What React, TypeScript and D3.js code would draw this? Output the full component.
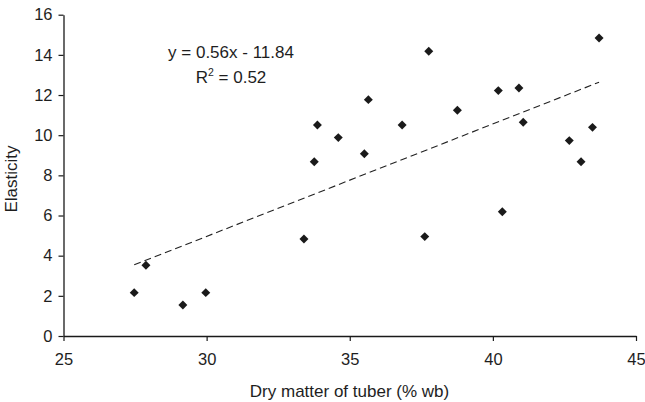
import React, { useEffect, useRef } from "react";
import * as d3 from "d3";

const dryMatter = [27.47, 27.88, 29.17, 29.97, 33.40, 33.76, 33.87, 34.60, 35.51, 35.65, 36.83, 37.62, 37.76, 38.76, 40.19, 40.33, 40.91, 41.06, 42.67, 43.08, 43.48, 43.71];
const elasticity = [2.16, 3.52, 1.54, 2.16, 4.83, 8.68, 10.51, 9.88, 9.08, 11.77, 10.51, 4.95, 14.18, 11.24, 12.22, 6.19, 12.35, 10.64, 9.73, 8.68, 10.39, 14.84];
const xTicks = [25, 30, 35, 40, 45];
const yTicks = [0, 2, 4, 6, 8, 10, 12, 14, 16];
const trendCoef = [0.56, -11.84];
const equationLabel = "y = 0.56x - 11.84";
const r2Label = "0.52";
const xTitle = "Dry matter of tuber (% wb)";
const yTitle = "Elasticity";

const W = 645;
const H = 402;
const FONT = "'Liberation Sans', Arial, sans-serif";

export default function App() {
  const ref = useRef<SVGSVGElement>(null);

  useEffect(() => {
    const svg = d3.select(ref.current);
    svg.selectAll("*").remove();

    const x = d3.scaleLinear().domain([25, 45]).range([63.5, 636]);
    const y = d3.scaleLinear().domain([0, 16]).range([336, 14.7]);

    const color = "#1a1a1a";
    const textColor = "#1e1e1e";

    // x axis
    const gx = svg.append("g").attr("transform", `translate(0,${y(0)})`);
    gx.call(d3.axisBottom(x).tickValues(xTicks).tickSize(5).tickSizeOuter(0).tickPadding(12).tickFormat(d3.format("d")));
    gx.select(".domain").attr("stroke", color).attr("stroke-width", 1.3);
    gx.selectAll(".tick line").attr("stroke", color).attr("stroke-width", 1.2);
    gx.selectAll(".tick text")
      .attr("font-family", FONT)
      .attr("font-size", 16.5)
      .attr("fill", textColor);

    // y axis
    const gy = svg.append("g").attr("transform", `translate(${x(25)},0)`);
    gy.call(d3.axisLeft(y).tickValues(yTicks).tickSize(5).tickSizeOuter(0).tickPadding(6).tickFormat(d3.format("d")));
    gy.select(".domain").attr("stroke", color).attr("stroke-width", 1.3);
    gy.selectAll(".tick line").attr("stroke", color).attr("stroke-width", 1.2);
    gy.selectAll(".tick text")
      .attr("font-family", FONT)
      .attr("font-size", 16.5)
      .attr("fill", textColor);

    // trend line
    const xmin = d3.min(dryMatter) as number;
    const xmax = d3.max(dryMatter) as number;
    const trend = [xmin, xmax].map((v) => [v, trendCoef[0] * v + trendCoef[1]]);
    svg
      .append("path")
      .attr("d", d3.line<number[]>().x((d) => x(d[0])).y((d) => y(d[1]))(trend) as string)
      .attr("fill", "none")
      .attr("stroke", "#222")
      .attr("stroke-width", 1.1)
      .attr("stroke-dasharray", "7,4");

    // points
    const sym = d3.symbol().type(d3.symbolSquare).size(40);
    svg
      .append("g")
      .selectAll("path")
      .data(dryMatter.map((v, i) => [v, elasticity[i]]))
      .join("path")
      .attr("d", sym() as string)
      .attr("transform", (d) => `translate(${x(d[0])},${y(d[1])}) rotate(45)`)
      .attr("fill", color);

    // equation
    svg
      .append("text")
      .attr("x", 231)
      .attr("y", 58)
      .attr("text-anchor", "middle")
      .attr("font-family", FONT)
      .attr("font-size", 17)
      .attr("fill", textColor)
      .text(equationLabel);
    const r2 = svg
      .append("text")
      .attr("x", 231)
      .attr("y", 82.5)
      .attr("text-anchor", "middle")
      .attr("font-family", FONT)
      .attr("font-size", 17)
      .attr("fill", textColor);
    r2.append("tspan").text("R");
    r2.append("tspan").attr("font-size", 10.5).attr("dy", -7).text("2");
    r2.append("tspan").attr("dy", 7).text(" = " + r2Label);

    // axis titles
    svg
      .append("text")
      .attr("x", 349.5)
      .attr("y", 397)
      .attr("text-anchor", "middle")
      .attr("font-family", FONT)
      .attr("font-size", 17)
      .attr("fill", textColor)
      .text(xTitle);
    svg
      .append("text")
      .attr("transform", "translate(17,179) rotate(-90)")
      .attr("text-anchor", "middle")
      .attr("font-family", FONT)
      .attr("font-size", 17)
      .attr("fill", textColor)
      .text(yTitle);
  }, []);

  return (
    <svg
      ref={ref}
      width={W}
      height={H}
      style={{ position: "absolute", left: 0, top: 0, background: "#fff" }}
    />
  );
}
